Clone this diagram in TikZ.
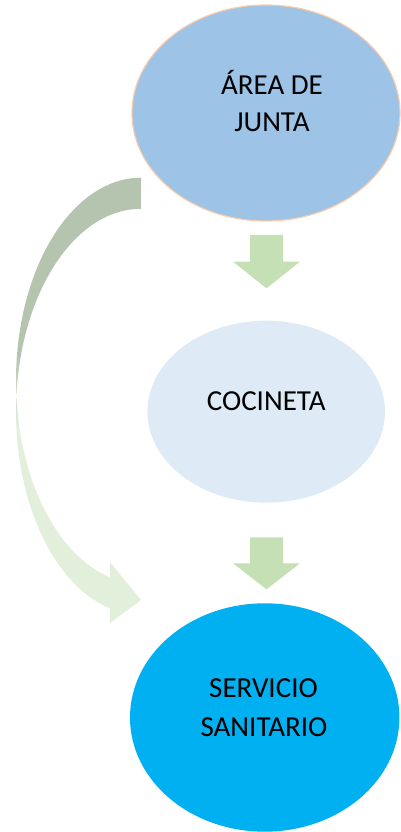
\documentclass[tikz,border=0pt]{standalone}
\usepackage{fontspec}
\setmainfont{Carlito}
\usetikzlibrary{shapes.geometric}
\definecolor{topblue}{HTML}{9DC3E6}
\definecolor{peach}{HTML}{F8CBAD}
\definecolor{midblue}{HTML}{DEEBF7}
\definecolor{botblue}{HTML}{00B0F0}
\definecolor{arrgreen}{HTML}{C5E0B4}
\definecolor{ggreen}{HTML}{B5C4AE}
\definecolor{lgreen}{HTML}{E2EFDA}
\pgfdeclareverticalshading{curvshade}{100bp}{color(0bp)=(lgreen); color(47bp)=(lgreen); color(55bp)=(ggreen); color(100bp)=(ggreen)}
\begin{document}
\begin{tikzpicture}[x=1pt,y=1pt,
  lbl/.style={font=\fontsize{29}{35}\selectfont, inner sep=0pt, anchor=base, text=black},
  blob/.style={ellipse, inner sep=0pt, outer sep=0pt},
  blockarrow/.style={fill=arrgreen, draw=none}]
\useasboundingbox (0,0) rectangle (400,832);
% ellipses
\node[blob, fill=topblue, draw=peach, line width=1.2pt, minimum width=268pt, minimum height=216pt] (junta) at (266,719) {};
\node[blob, fill=midblue, minimum width=237.6pt, minimum height=182pt] (cocina) at (266.2,420.3) {};
\node[blob, fill=botblue, minimum width=269.4pt, minimum height=228.4pt] (sanit) at (264.7,114.5) {};
% labels
\node[lbl] (t1) at (272,737) {ÁREA DE};
\node[lbl] (t2) at (272,700.3) {JUNTA};
\node[lbl] (t3) at (266.2,421.3) {COCINETA};
\node[lbl] (t4) at (263.5,134) {SERVICIO};
\node[lbl] (t5) at (264,95.3) {SANITARIO};
% down block arrows
\fill[blockarrow] (250,597) -- (283,597) -- (283,570.3) -- (300,570.3) -- (266.5,543.7) -- (233,570.3) -- (250,570.3) -- cycle;
\fill[blockarrow] (250,294.7) -- (283,294.7) -- (283,268.7) -- (300,268.7) -- (266.5,242.7) -- (233,268.7) -- (250,268.7) -- cycle;
% curved arrow
\shade[shading=curvshade] (141,654.3)
  arc[start angle=90, end angle=184.4, x radius=125, y radius=203]
  arc[start angle=175.6, end angle=255.6, x radius=125, y radius=203]
  -- (110,209) -- (141,232) -- (110,270) -- (109.9,254.7)
  arc[start angle=255.6, end angle=184.4, x radius=125, y radius=203]
  arc[start angle=175.6, end angle=90, x radius=125, y radius=203]
  -- cycle;
\end{tikzpicture}
\end{document}
